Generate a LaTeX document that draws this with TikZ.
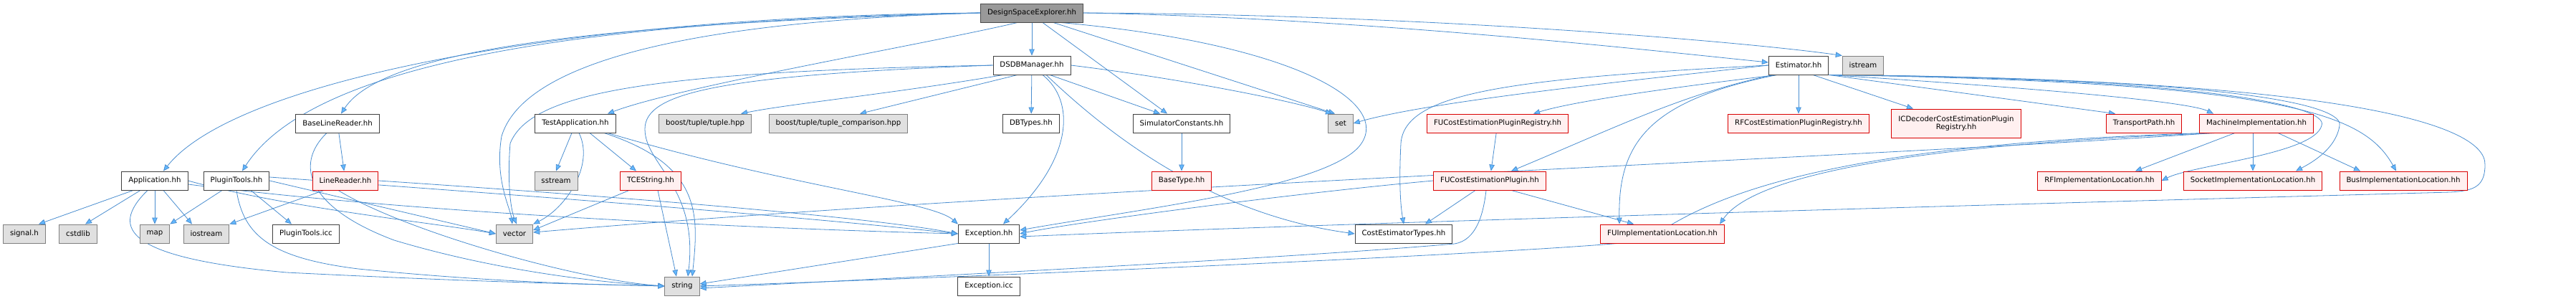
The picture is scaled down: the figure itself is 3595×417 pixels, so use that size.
\documentclass[tikz,border=0pt]{standalone}
\usepackage{fontspec}
\setmainfont{DejaVu Sans}
\usetikzlibrary{arrows.meta,backgrounds}
\definecolor{edgeblue}{HTML}{4A8ED0}
\definecolor{arrowblue}{HTML}{63B8FF}
\definecolor{sysgray}{HTML}{E0E0E0}
\definecolor{truncfill}{HTML}{FFF0F0}
\definecolor{mainfill}{HTML}{999999}

\begin{document}
\begin{tikzpicture}[x=1pt,y=-1pt,
  every node/.style={draw=black!75,fill=white,rectangle,line width=0.9pt,inner xsep=9.5pt,
    inner ysep=0pt,minimum height=26pt,font=\fontsize{10.2}{12}\selectfont},
  sysfile/.style={fill=sysgray,draw=black!50},
  trunc/.style={fill=truncfill,draw=red!85!black},
  mainfile/.style={fill=mainfill,draw=black!70},
  dep/.style={draw=edgeblue,line width=0.8pt,-{Triangle[length=9pt,width=7.5pt,fill=arrowblue]}}]
\useasboundingbox (0,0) rectangle (3595,417);
% rank 0 and 1
\node[mainfile] (dse)      at (1440,18)  {DesignSpaceExplorer.hh};
\node           (dsdb)     at (1440,91)  {DSDBManager.hh};
\node           (est)      at (2510,91)  {Estimator.hh};
\node[sysfile]  (istream)  at (2600,91)  {istream};
% rank 2
\node           (blr)      at (471,172)  {BaseLineReader.hh};
\node           (testapp)  at (803,172)  {TestApplication.hh};
\node[sysfile]  (tuple)    at (984,172)  {boost/tuple/tuple.hpp};
\node[sysfile]  (tuplecmp) at (1170,172) {boost/tuple/tuple\_comparison.hpp};
\node           (dbtypes)  at (1439,172) {DBTypes.hh};
\node           (simconst) at (1649,172) {SimulatorConstants.hh};
\node[sysfile]  (set)      at (1871,172) {set};
\node[trunc]    (fucepreg) at (2090,172) {FUCostEstimationPluginRegistry.hh};
\node[trunc]    (rfcepreg) at (2510,172) {RFCostEstimationPluginRegistry.hh};
\node[trunc,align=center,minimum height=40pt] (icdec) at (2730,172) {ICDecoderCostEstimationPlugin\\[-1pt]Registry.hh};
\node[trunc]    (tpath)    at (2992,172) {TransportPath.hh};
\node[trunc]    (machimpl) at (3149,172) {MachineImplementation.hh};
% rank 3
\node           (app)      at (216,252)  {Application.hh};
\node           (ptools)   at (330,252)  {PluginTools.hh};
\node[trunc]    (linereader) at (482,252) {LineReader.hh};
\node[sysfile]  (sstream)  at (776,252)  {sstream};
\node[trunc]    (tcestring) at (908,252) {TCEString.hh};
\node[trunc]    (basetype) at (1649,252) {BaseType.hh};
\node[trunc]    (fucep)    at (2079,252) {FUCostEstimationPlugin.hh};
\node[trunc]    (rfimpl)   at (2930,252) {RFImplementationLocation.hh};
\node[trunc]    (sockimpl) at (3144,252) {SocketImplementationLocation.hh};
\node[trunc]    (busimpl)  at (3354,252) {BusImplementationLocation.hh};
% rank 4
\node[sysfile]  (signal)   at (34,326)   {signal.h};
\node[sysfile]  (cstdlib)  at (109,326)  {cstdlib};
\node[sysfile]  (map)      at (216,326)  {map};
\node[sysfile]  (iostream) at (288,326)  {iostream};
\node           (ptoolsicc) at (427,326) {PluginTools.icc};
\node[sysfile]  (vector)   at (718,326)  {vector};
\node           (exception) at (1380,326) {Exception.hh};
\node           (costtypes) at (1959,326) {CostEstimatorTypes.hh};
\node[trunc]    (fuimpl)   at (2320,326) {FUImplementationLocation.hh};
% rank 5
\node[sysfile]  (string)   at (952,399)  {string};
\node           (exceptionicc) at (1380,399) {Exception.icc};

\begin{scope}[on background layer]
\fill[white] (0,0) rectangle (3595,417);
% DesignSpaceExplorer.hh
\draw[dep] (dse.west) .. controls (800,22) and (330,110) .. ([xshift=12]app.north);
\draw[dep] (dse.west) .. controls (850,28) and (440,80) .. ([xshift=8]ptools.north);
\draw[dep] (dse.west) .. controls (900,32) and (540,60) .. ([xshift=5]blr.north);
\draw[dep] (dse.west) .. controls (950,30) and (730,90) .. (700,190) .. controls (690,250) and (712,290) .. ([xshift=-3]vector.north);
\draw[dep] ([xshift=-20]dse.south) .. controls (1300,60) and (950,120) .. ([xshift=45]testapp.north);
\draw[dep] (dse) -- (dsdb);
\draw[dep] ([xshift=15]dse.south) -- ([xshift=-20]simconst.north);
\draw[dep] ([xshift=30]dse.south) -- ([xshift=-8]set.north);
\draw[dep] ([xshift=40]dse.south) .. controls (1800,60) and (1940,140) .. (1900,200) .. controls (1860,260) and (1600,290) .. ([yshift=5]exception.east);
\draw[dep] (dse.east) .. controls (1900,25) and (2300,70) .. ([yshift=4]est.west);
\draw[dep] (dse.east) .. controls (2000,20) and (2450,60) .. (istream.north west);
% DSDBManager.hh
\draw[dep] (dsdb.west) .. controls (900,100) and (740,130) .. (712,200) .. controls (708,250) and (712,290) .. ([xshift=3]vector.north);
\draw[dep] (dsdb.west) .. controls (1000,105) and (900,130) .. (900,180) .. controls (900,230) and (975,260) .. ([xshift=8]string.north);
\draw[dep] ([xshift=-40]dsdb.south) .. controls (1250,130) and (1100,145) .. ([xshift=50]tuple.north);
\draw[dep] ([xshift=-20]dsdb.south) -- ([xshift=30]tuplecmp.north);
\draw[dep] (dsdb) -- (dbtypes);
\draw[dep] ([xshift=25]dsdb.south) -- ([xshift=-30]simconst.north);
\draw[dep] (dsdb.east) .. controls (1650,110) and (1800,140) .. ([xshift=-12]set.north);
\draw[dep] ([xshift=15]dsdb.south) .. controls (1500,140) and (1500,220) .. ([xshift=20]exception.north);
\draw[dep] ([xshift=20]dsdb.south) .. controls (1560,200) and (1700,300) .. (costtypes.west);
% Estimator.hh
\draw[dep] (est.west) .. controls (2300,110) and (2000,140) .. (set.east);
\draw[dep] (est.west) .. controls (2100,110) and (1960,130) .. (1955,200) .. controls (1952,260) and (1955,290) .. (costtypes.north);
\draw[dep] ([xshift=-30]est.south) .. controls (2350,120) and (2200,140) .. ([xshift=50]fucepreg.north);
\draw[dep] ([xshift=-35]est.south) .. controls (2350,130) and (2250,180) .. ([xshift=30]fucep.north);
\draw[dep] ([xshift=-30]est.south) .. controls (2300,140) and (2258,200) .. ([xshift=-60]fuimpl.north);
\draw[dep] (est) -- (rfcepreg);
\draw[dep] ([xshift=20]est.south) -- ([xshift=-60]icdec.north);
\draw[dep] (est.south east) -- ([xshift=-40]tpath.north);
\draw[dep] (est.south east) .. controls (2800,120) and (3050,140) .. ([xshift=-60]machimpl.north);
\draw[dep] (est.south east) .. controls (3100,110) and (3250,150) .. (3240,175) .. controls (3230,215) and (3060,230) .. (rfimpl.east);
\draw[dep] (est.south east) .. controls (3150,110) and (3270,150) .. (3265,175) .. controls (3260,210) and (3220,230) .. ([xshift=60]sockimpl.north);
\draw[dep] (est.south east) .. controls (3200,115) and (3300,160) .. ([xshift=-10]busimpl.north);
\draw[dep] (est.south east) .. controls (3250,110) and (3470,170) .. (3468,230) .. controls (3468,262) and (3450,266) .. (3420,268) .. controls (2800,285) and (1900,310) .. ([yshift=-4]exception.east);
% MachineImplementation.hh
\draw[dep] ([xshift=-60]machimpl.south) .. controls (2600,220) and (1500,260) .. ([yshift=2]vector.east);
\draw[dep] ([xshift=-70]machimpl.south) .. controls (2600,200) and (2400,260) .. (2300,335) .. controls (2200,350) and (1400,385) .. (string.east);
\draw[dep] ([xshift=-55]machimpl.south) .. controls (2700,200) and (2450,240) .. ([xshift=80]fuimpl.north);
\draw[dep] ([xshift=-30]machimpl.south) -- ([xshift=50]rfimpl.north);
\draw[dep] ([xshift=-5]machimpl.south) -- (sockimpl.north);
\draw[dep] ([xshift=30]machimpl.south) -- ([xshift=-60]busimpl.north);
% FUCostEstimationPlugin.hh
\draw[dep] (fucepreg) -- (fucep);
\draw[dep] ([xshift=-20]fucep.south) -- ([xshift=30]costtypes.north);
\draw[dep] ([xshift=30]fucep.south) -- ([xshift=-40]fuimpl.north);
\draw[dep] (fucep.west) .. controls (1800,270) and (1500,310) .. (exception.east);
\draw[dep] ([xshift=-5]fucep.south) .. controls (2070,300) and (2060,335) .. (2030,340) .. controls (1800,360) and (1300,385) .. ([yshift=-3]string.east);
% SimulatorConstants.hh, Exception.hh
\draw[dep] (simconst) -- (basetype);
\draw[dep] (exception) -- (exceptionicc);
\draw[dep] (exception.south west) -- ([yshift=3]string.east);
% TestApplication.hh, TCEString.hh
\draw[dep] ([xshift=-5]testapp.south) -- (sstream.north);
\draw[dep] ([xshift=5]testapp.south) .. controls (830,230) and (790,290) .. (vector.north east);
\draw[dep] ([xshift=20]testapp.south) -- ([xshift=-20]tcestring.north);
\draw[dep] ([xshift=40]testapp.south) .. controls (980,230) and (975,300) .. ([xshift=14]string.north);
\draw[dep] ([xshift=45]testapp.south) .. controls (1100,260) and (1300,280) .. (exception.north west);
\draw[dep] ([xshift=-30]tcestring.south) -- ([yshift=5]vector.east);
\draw[dep] ([xshift=10]tcestring.south) -- ([xshift=-8]string.north);
% BaseLineReader.hh, LineReader.hh
\draw[dep] (blr) -- (linereader);
\draw[dep] ([xshift=-15]blr.south) .. controls (410,230) and (430,290) .. (550,335) .. controls (700,380) and (850,395) .. (string.west);
\draw[dep] ([xshift=-30]linereader.south) -- (iostream.north east);
\draw[dep] ([xshift=-10]linereader.south) .. controls (560,320) and (800,390) .. (string.west);
\draw[dep] (linereader.east) .. controls (800,270) and (1200,300) .. (exception.west);
% Application.hh
\draw[dep] ([xshift=-30]app.south) -- ([xshift=20]signal.north);
\draw[dep] ([xshift=-20]app.south) -- ([xshift=10]cstdlib.north);
\draw[dep] (app) -- (map);
\draw[dep] ([xshift=12]app.south) -- ([xshift=-20]iostream.north);
\draw[dep] ([xshift=-10]app.south) .. controls (150,320) and (180,360) .. (400,380) .. controls (700,395) and (850,397) .. (string.west);
\draw[dep] (app.east) .. controls (400,290) and (600,310) .. (vector.west);
\draw[dep] ([yshift=-5]app.east) .. controls (600,300) and (1100,320) .. (exception.west);
% PluginTools.hh
\draw[dep] ([xshift=-20]ptools.south) -- (map.north east);
\draw[dep] ([xshift=20]ptools.south) -- ([xshift=-20]ptoolsicc.north);
\draw[dep] (ptools.south) .. controls (340,330) and (380,360) .. (500,375) .. controls (700,395) and (850,397) .. (string.west);
\draw[dep] (ptools.east) -- (vector.west);
\draw[dep] ([yshift=5]ptools.east) .. controls (700,270) and (1100,300) .. (exception.west);
\end{scope}
\end{tikzpicture}
\end{document}
